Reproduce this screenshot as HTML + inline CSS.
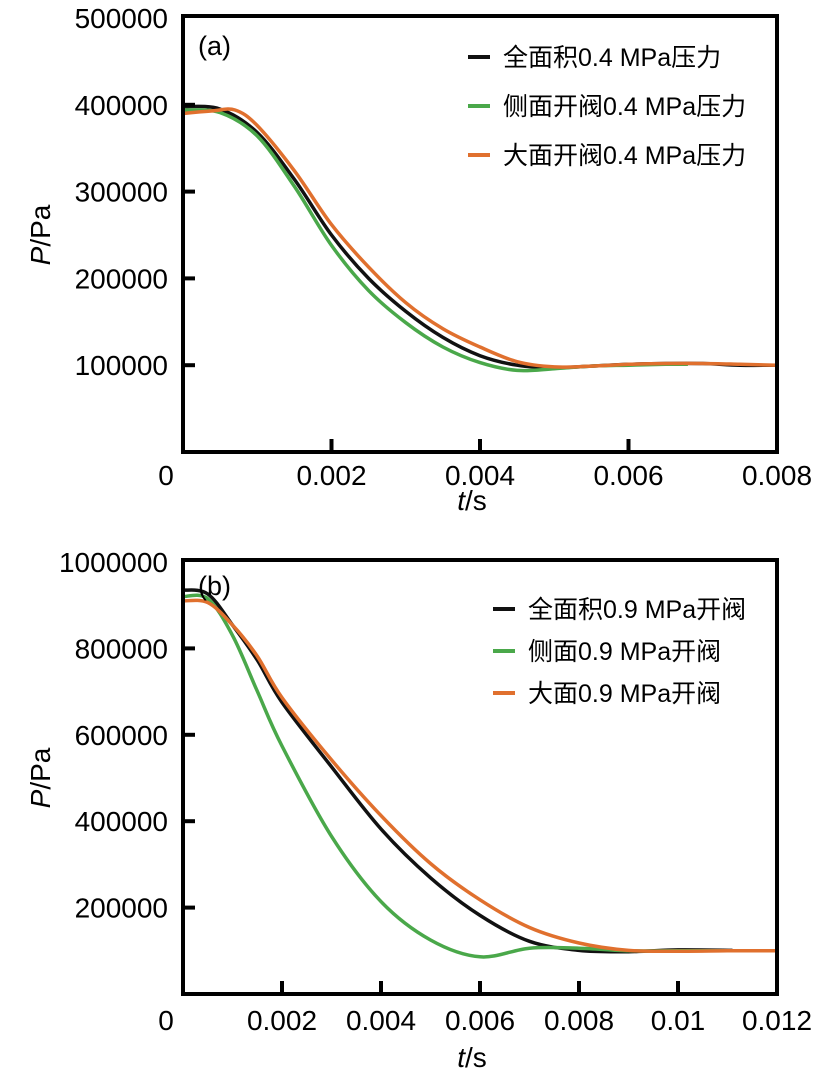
<!DOCTYPE html>
<html><head><meta charset="utf-8">
<style>
body{margin:0;background:#fff;}
svg{display:block;font-family:"Liberation Sans","Noto Sans CJK SC",sans-serif;}
</style></head>
<body>
<svg id="c" width="832" height="1082" viewBox="0 0 832 1082"></svg>
<script>
// Panel (a) data (time in s, pressure in kPa)
const tA = [0,0.0005,0.001,0.0015,0.002,0.0025,0.003,0.0035,0.004,0.0045,0.005,0.0055,0.006,0.0065,0.007,0.0075,0.008];
const aFull = [398,395,368,314,250,200,162,132,111,100,97,99,101,102,102,100,100];
const tAGreen = [0,0.0005,0.001,0.0015,0.002,0.0025,0.003,0.0035,0.004,0.0045,0.005,0.0055,0.006,0.0065,0.0068];
const aSide = [394,391,364,306,238,186,149,121,103,94,96,99,100,101,101];
const tAOrange = [0,0.0004,0.0007,0.001,0.0015,0.002,0.0025,0.003,0.0035,0.004,0.0045,0.005,0.0055,0.006,0.0065,0.007,0.0075,0.008];
const aLarge = [390,393,394,376,324,262,213,172,142,121,104,98,99,101,102,102,101,100];
const yTicksA = [100000,200000,300000,400000,500000];
const xTicksA = [0.002,0.004,0.006,0.008];

// Panel (b) data
const tB = [0,0.0005,0.001,0.0015,0.002,0.003,0.004,0.005,0.006,0.007,0.008,0.009,0.01,0.0111];
const bFull = [935,926,854,773,675,526,382,269,182,122,101,98,102,101];
const bSide = [920,915,830,701,574,365,214,125,86,106,106,100,100,100];
const tBOrange = [0,0.0005,0.001,0.0015,0.002,0.003,0.004,0.005,0.006,0.007,0.008,0.009,0.01,0.011,0.012];
const bLarge = [910,906,854,782,686,542,413,302,218,154,118,101,99,100,100];
const yTicksB = [200000,400000,600000,800000,1000000];
const xTicksB = [0.002,0.004,0.006,0.008,0.01,0.012];

const NS="http://www.w3.org/2000/svg";
const svg=document.getElementById('c');
function mk(tag,attrs,parent){const e=document.createElementNS(NS,tag);for(const k in attrs)e.setAttribute(k,attrs[k]);(parent||svg).appendChild(e);return e;}
function txt(s,x,y,size,anchor,parent){const e=mk('text',{x:x,y:y,'font-size':size,'text-anchor':anchor||'start',fill:'#000'},parent);e.textContent=s;return e;}
function smooth(pts){let d='M'+pts[0][0]+','+pts[0][1];for(let i=0;i<pts.length-1;i++){const p0=pts[Math.max(0,i-1)],p1=pts[i],p2=pts[i+1],p3=pts[Math.min(pts.length-1,i+2)];const c1=[p1[0]+(p2[0]-p0[0])/6,p1[1]+(p2[1]-p0[1])/6];const c2=[p2[0]-(p3[0]-p1[0])/6,p2[1]-(p3[1]-p1[1])/6];d+=' C'+c1[0].toFixed(1)+','+c1[1].toFixed(1)+' '+c2[0].toFixed(1)+','+c2[1].toFixed(1)+' '+p2[0].toFixed(1)+','+p2[1].toFixed(1);}return d;}

function panel(cfg){
  const g=mk('g',{});
  
  
  const X=t=>cfg.x0+(t/cfg.xmax)*(cfg.x1-cfg.x0);
  const Y=v=>cfg.y0-(v/cfg.ymax)*(cfg.y0-cfg.y1);
  cfg.series.forEach(s=>{
    const p=mk('path',{d:smooth(s.t.map((t,i)=>[X(t),Y(s.v[i]*1000)])),fill:'none',stroke:s.color,'stroke-width':3.5,'stroke-linejoin':'round'},g);
    
    
  });
  const box=mk('rect',{x:cfg.x0,y:cfg.y1-2,width:cfg.x1-cfg.x0,height:cfg.y0-cfg.y1+2,fill:'none',stroke:'#000','stroke-width':4},g);
  
  
  cfg.yt.forEach(v=>{
    if(v<cfg.ymax) mk('line',{x1:cfg.x0,x2:cfg.x0+12,y1:Y(v),y2:Y(v),stroke:'#000','stroke-width':4},g);
    const l=txt(String(v),168,Y(v)+10,28,'end',g);
    
    
  });
  txt('0',166,cfg.xlabY,28,'middle',g);
  cfg.xt.forEach(t=>{
    if(t<cfg.xmax) mk('line',{x1:X(t),x2:X(t),y1:cfg.y0,y2:cfg.y0-13,stroke:'#000','stroke-width':4},g);
    const l=txt(String(t),X(t),cfg.xlabY,28,'middle',g);
    
    
  });
  const xt=mk('text',{x:472,y:cfg.xtitleY,'font-size':28,'text-anchor':'middle'},g);
  xt.innerHTML='<tspan font-style="italic">t</tspan>/s';
  
  
  const cy=(cfg.y0+cfg.y1)/2;
  const yt=mk('text',{x:0,y:0,'font-size':28,'text-anchor':'middle',transform:'translate(50,'+cy+') rotate(-90)'},g);
  yt.innerHTML='<tspan font-style="italic">P</tspan>/Pa';
  
  
  const pl=txt(cfg.tag,198,cfg.tagY,27,'start',g);
  
  
  cfg.series.forEach((s,i)=>{
    const ly=cfg.legY+i*cfg.legGap;
    const lg=mk('g',{},g);
    
    
    mk('line',{x1:cfg.legX,x2:cfg.legX+22,y1:ly,y2:ly,stroke:s.color,'stroke-width':4},lg);
    const t=txt(s.label,cfg.legX+35,ly+9,25,'start',lg);
  });
}

panel({name:'panel-a',x0:183,x1:777,y0:452,y1:18,xmax:0.008,ymax:500000,yt:yTicksA,xt:xTicksA,xlabY:485,xtitleY:510,tag:'(a)',tagY:55,
  legX:468,legY:57,legGap:49,
  series:[{id:'line-full-area',t:tA,v:aFull,color:'#111',label:'全面积0.4 MPa压力'},
          {id:'line-side-valve',t:tAGreen,v:aSide,color:'#4aa84a',label:'侧面开阀0.4 MPa压力'},
          {id:'line-large-face',t:tAOrange,v:aLarge,color:'#e0702e',label:'大面开阀0.4 MPa压力'}]});
panel({name:'panel-b',x0:183,x1:777,y0:994,y1:562,xmax:0.012,ymax:1000000,yt:yTicksB,xt:xTicksB,xlabY:1030,xtitleY:1067,tag:'(b)',tagY:595,
  legX:493,legY:609,legGap:42,
  series:[{id:'line-full-area',t:tB,v:bFull,color:'#111',label:'全面积0.9 MPa开阀'},
          {id:'line-side-valve',t:tB,v:bSide,color:'#4aa84a',label:'侧面0.9 MPa开阀'},
          {id:'line-large-face',t:tBOrange,v:bLarge,color:'#e0702e',label:'大面0.9 MPa开阀'}]});
</script>
</body></html>
